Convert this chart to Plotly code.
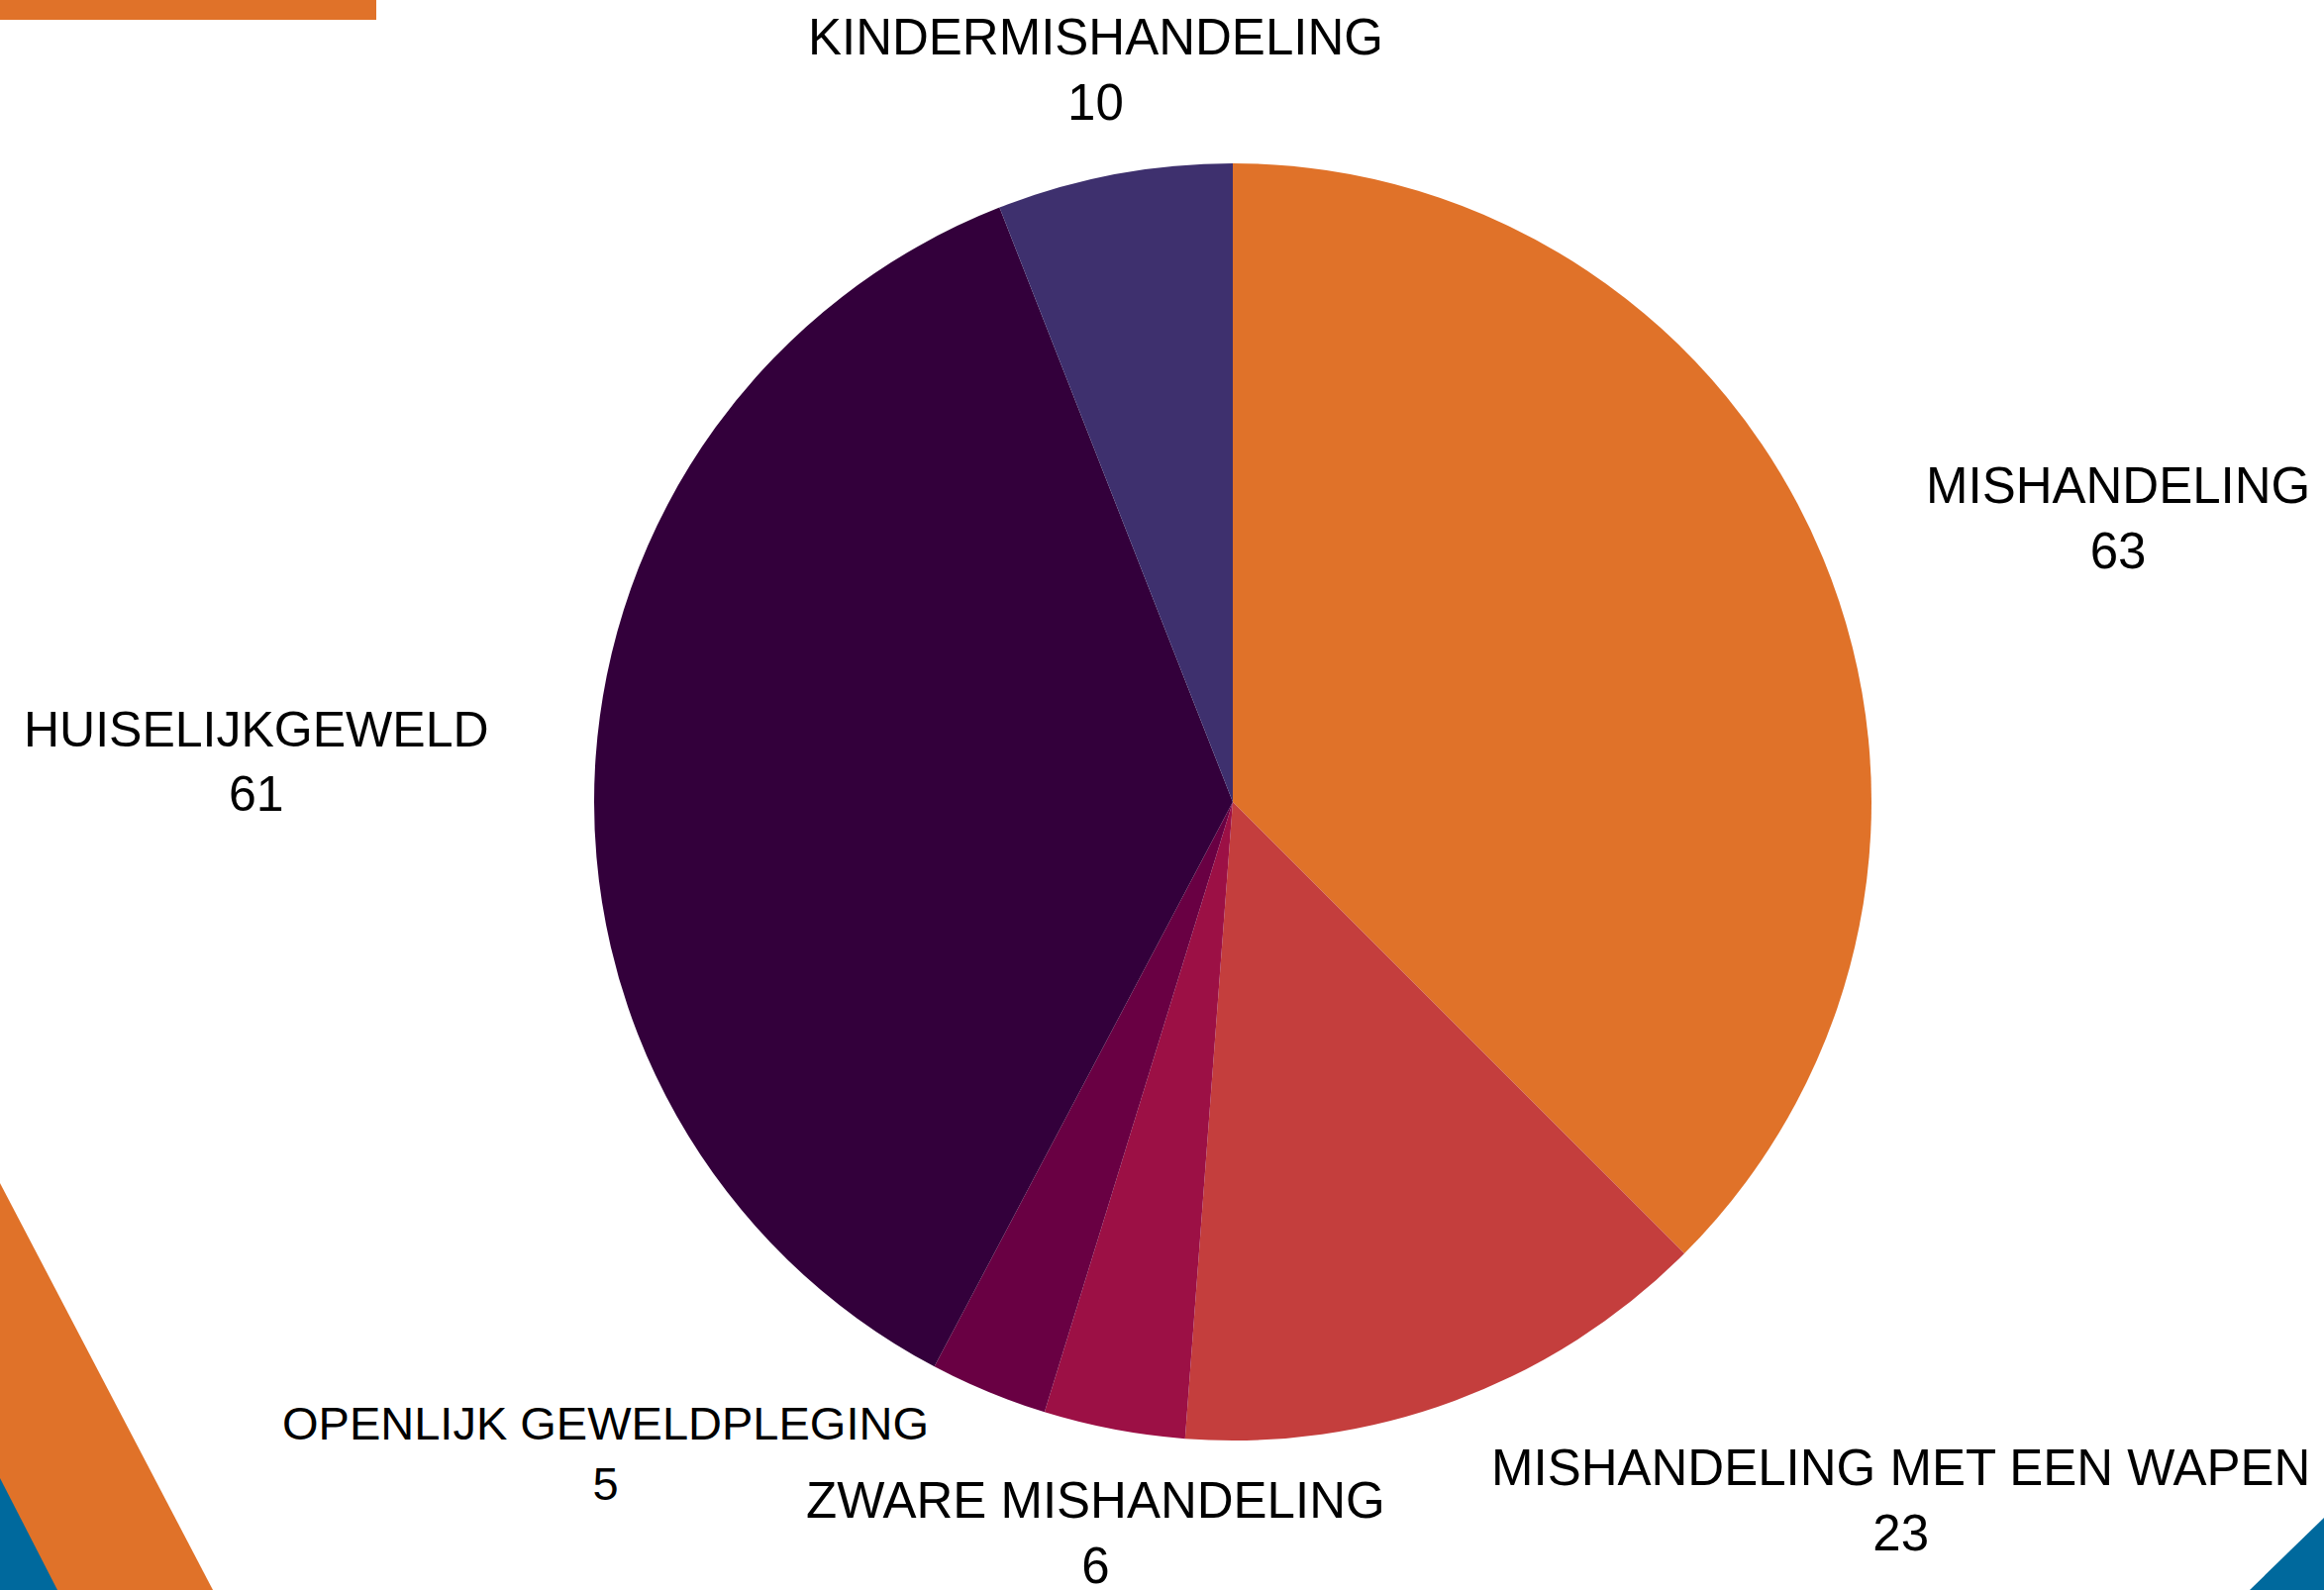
import plotly.graph_objects as go

W, H = 2347, 1606

categories = ["MISHANDELING", "MISHANDELING MET EEN WAPEN", "ZWARE MISHANDELING",
              "OPENLIJK GEWELDPLEGING", "HUISELIJKGEWELD", "KINDERMISHANDELING"]
values = [63, 23, 6, 5, 61, 10]
colors = ["#E07229", "#C43E3D", "#9C1045", "#690043", "#33003B", "#3E306E"]

# label anchor positions in pixels (center x, center y from top) and font sizes
label_px = [(2139, 523), (1919, 1515), (1106, 1548), (611, 1468), (259, 770), (1106, 71)]
label_size = [51, 51, 51, 47, 50, 51]

cx, cy, r = 1245, 810, 645

fig = go.Figure(go.Pie(
    labels=categories, values=values, sort=False, direction="clockwise", rotation=0,
    marker=dict(colors=colors, line=dict(width=0)),
    textinfo="none", hoverinfo="label+value", showlegend=False,
    domain=dict(x=[(cx - r) / W, (cx + r) / W], y=[(H - cy - r) / H, (H - cy + r) / H]),
))

for cat, val, (px, py), fs in zip(categories, values, label_px, label_size):
    fig.add_annotation(x=px / W, y=1 - py / H, xref="paper", yref="paper",
                       text=f"{cat}<br>{val}", showarrow=False, xanchor="center", yanchor="middle",
                       font=dict(family="Liberation Sans", size=fs, color="#000000"), align="center")

def path(pts):
    return "M " + " L ".join(f"{x / W},{1 - y / H}" for x, y in pts) + " Z"

orange = "#E07229"
blue = "#00699D"
fig.add_shape(type="path", xref="paper", yref="paper", path=path([(0, 0), (380, 0), (380, 20), (0, 20)]),
              fillcolor=orange, line=dict(width=0), layer="below")
fig.add_shape(type="path", xref="paper", yref="paper", path=path([(0, 1195), (215, 1606), (0, 1606)]),
              fillcolor=orange, line=dict(width=0), layer="below")
fig.add_shape(type="path", xref="paper", yref="paper", path=path([(0, 1493), (58, 1606), (0, 1606)]),
              fillcolor=blue, line=dict(width=0), layer="below")
fig.add_shape(type="path", xref="paper", yref="paper", path=path([(2347, 1533), (2272, 1606), (2347, 1606)]),
              fillcolor=blue, line=dict(width=0), layer="below")

fig.update_layout(width=W, height=H, margin=dict(l=0, r=0, t=0, b=0),
                  paper_bgcolor="white", plot_bgcolor="white")
fig.write_html("out.html", config={"displayModeBar": False},
               post_script="document.body.style.margin='0';document.body.style.overflow='hidden';")
